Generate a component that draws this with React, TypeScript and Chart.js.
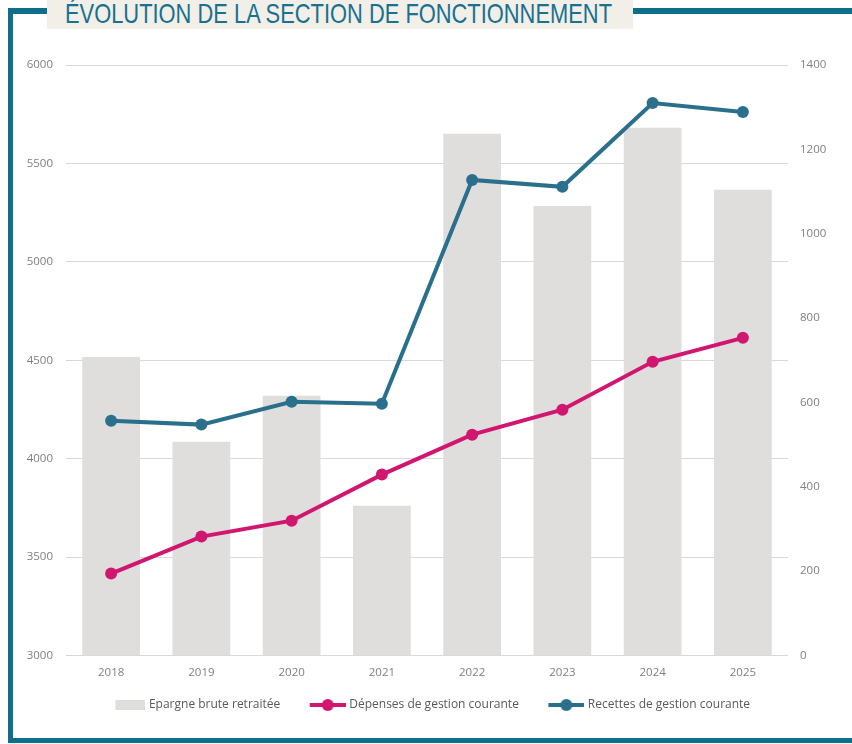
import React, { useEffect, useLayoutEffect, useRef } from "react";
import { Chart, registerables } from "chart.js";

Chart.register(...registerables);

const years = ["2018", "2019", "2020", "2021", "2022", "2023", "2024", "2025"];
const epargneBrute = [708, 507, 616, 355, 1237, 1066, 1251, 1104];
const depenses = [3416, 3604, 3685, 3919, 4122, 4249, 4492, 4614];
const recettes = [4193, 4173, 4289, 4279, 5416, 5381, 5807, 5761];

const TITLE = "ÉVOLUTION DE LA SECTION DE FONCTIONNEMENT";
const TEAL_FRAME = "#0d6f8b";
const BAR_COLOR = "#dfdedc";
const MAGENTA = "#d1166f";
const TEAL_LINE = "#2a708c";
const FONT = "'Open Sans', 'DejaVu Sans', sans-serif";

const ICON_W = 58;
const ICON_BOX = 53;

function makeBarIcon() {
  const c = document.createElement("canvas");
  c.width = ICON_W;
  c.height = 10;
  const ctx = c.getContext("2d")!;
  ctx.fillStyle = BAR_COLOR;
  ctx.fillRect(ICON_W - 30, 0, 30, 10);
  return c;
}

function makeLineIcon(color: string) {
  const c = document.createElement("canvas");
  c.width = ICON_W;
  c.height = 12;
  const ctx = c.getContext("2d")!;
  const x0 = ICON_W - 36;
  ctx.strokeStyle = color;
  ctx.lineWidth = 4;
  ctx.beginPath();
  ctx.moveTo(x0, 6);
  ctx.lineTo(ICON_W, 6);
  ctx.stroke();
  ctx.fillStyle = color;
  ctx.beginPath();
  ctx.arc(x0 + 18, 6, 6, 0, Math.PI * 2);
  ctx.fill();
  return c;
}

const tickFont = { family: FONT, size: 11.5 };
const plainNum = (v: any) => String(v);

export default function App() {
  const canvasRef = useRef<HTMLCanvasElement | null>(null);
  const titleRef = useRef<HTMLSpanElement | null>(null);

  useLayoutEffect(() => {
    const el = titleRef.current;
    if (!el) return;
    el.style.transform = "none";
    const w = el.getBoundingClientRect().width;
    if (w > 0) el.style.transform = `scaleX(${547 / w})`;
  }, []);

  useEffect(() => {
    if (!canvasRef.current) return;
    const icons = [makeBarIcon(), makeLineIcon(MAGENTA), makeLineIcon(TEAL_LINE)];
    const chart = new Chart(canvasRef.current, {
      type: "bar",
      data: {
        labels: years,
        datasets: [
          {
            type: "bar",
            label: "Epargne brute retraitée",
            data: epargneBrute,
            backgroundColor: BAR_COLOR,
            borderWidth: 0,
            yAxisID: "y1",
            categoryPercentage: 0.8,
            barPercentage: 0.8,
            order: 3,
          },
          {
            type: "line",
            label: "Dépenses de gestion courante",
            data: depenses,
            borderColor: MAGENTA,
            backgroundColor: MAGENTA,
            pointBackgroundColor: MAGENTA,
            borderWidth: 4,
            pointRadius: 6,
            pointBorderWidth: 0,
            tension: 0,
            yAxisID: "y",
            order: 1,
          },
          {
            type: "line",
            label: "Recettes de gestion courante",
            data: recettes,
            borderColor: TEAL_LINE,
            backgroundColor: TEAL_LINE,
            pointBackgroundColor: TEAL_LINE,
            borderWidth: 4,
            pointRadius: 6,
            pointBorderWidth: 0,
            tension: 0,
            yAxisID: "y",
            order: 2,
          },
        ],
      } as any,
      options: {
        animation: false,
        responsive: false,
        maintainAspectRatio: false,
        layout: { padding: { top: 65, bottom: 23, left: 0, right: 12 } },
        plugins: {
          tooltip: { enabled: false },
          legend: {
            position: "bottom",
            labels: {
              usePointStyle: true,
              pointStyleWidth: ICON_BOX,
              padding: 10,
              color: "#595959",
              font: { family: FONT, size: 12 },
              sort: (a: any, b: any) => a.datasetIndex - b.datasetIndex,
              generateLabels: (ch: any) => {
                const items = (Chart.defaults.plugins.legend.labels as any).generateLabels(ch);
                return items.map((it: any) => ({
                  ...it,
                  pointStyle: icons[it.datasetIndex],
                  fontColor: "#595959",
                }));
              },
            },
          },
        },
        scales: {
          x: {
            grid: { display: false, drawTicks: false },
            border: { display: false },
            ticks: { color: "#7f7f7f", padding: 10, font: tickFont },
            afterFit: (s: any) => {
              s.height = 33.5;
            },
          },
          y: {
            position: "left",
            min: 3000,
            max: 6000,
            ticks: { stepSize: 500, color: "#7f7f7f", padding: 13, font: tickFont, callback: plainNum },
            grid: { color: "#d9d9d9", lineWidth: 1, drawTicks: false },
            border: { display: false },
            afterFit: (s: any) => {
              s.width = 66;
            },
          },
          y1: {
            position: "right",
            min: 0,
            max: 1400,
            ticks: { stepSize: 200, color: "#7f7f7f", padding: 12, font: tickFont, callback: plainNum },
            grid: { display: false, drawTicks: false },
            border: { display: false },
            afterFit: (s: any) => {
              s.width = 52;
            },
          },
        },
      } as any,
    });
    return () => chart.destroy();
  }, []);

  return (
    <div style={{ position: "absolute", left: 0, top: 0, width: 852, height: 744, background: "#ffffff", overflow: "hidden" }}>
      <canvas ref={canvasRef} width={852} height={744} style={{ position: "absolute", left: 0, top: 0, width: 852, height: 744 }} />
      <div style={{ position: "absolute", left: 8, top: 8, width: 5, height: 735, background: TEAL_FRAME }} />
      <div style={{ position: "absolute", left: 8, top: 8, width: 844, height: 6, background: TEAL_FRAME }} />
      <div style={{ position: "absolute", left: 8, top: 738, width: 844, height: 5, background: TEAL_FRAME }} />
      <div style={{ position: "absolute", left: 47, top: 0, width: 586, height: 29, background: "#f2eee8", overflow: "visible" }}>
        <span
          ref={titleRef}
          style={{
            position: "absolute",
            left: 18,
            top: 0,
            whiteSpace: "nowrap",
            fontFamily: "'Liberation Sans Narrow', 'Liberation Sans', Arial, sans-serif",
            fontSize: 28,
            lineHeight: "28px",
            color: "#17718f",
            transformOrigin: "left center",
            display: "inline-block",
          }}
        >
          {TITLE}
        </span>
      </div>
    </div>
  );
}
